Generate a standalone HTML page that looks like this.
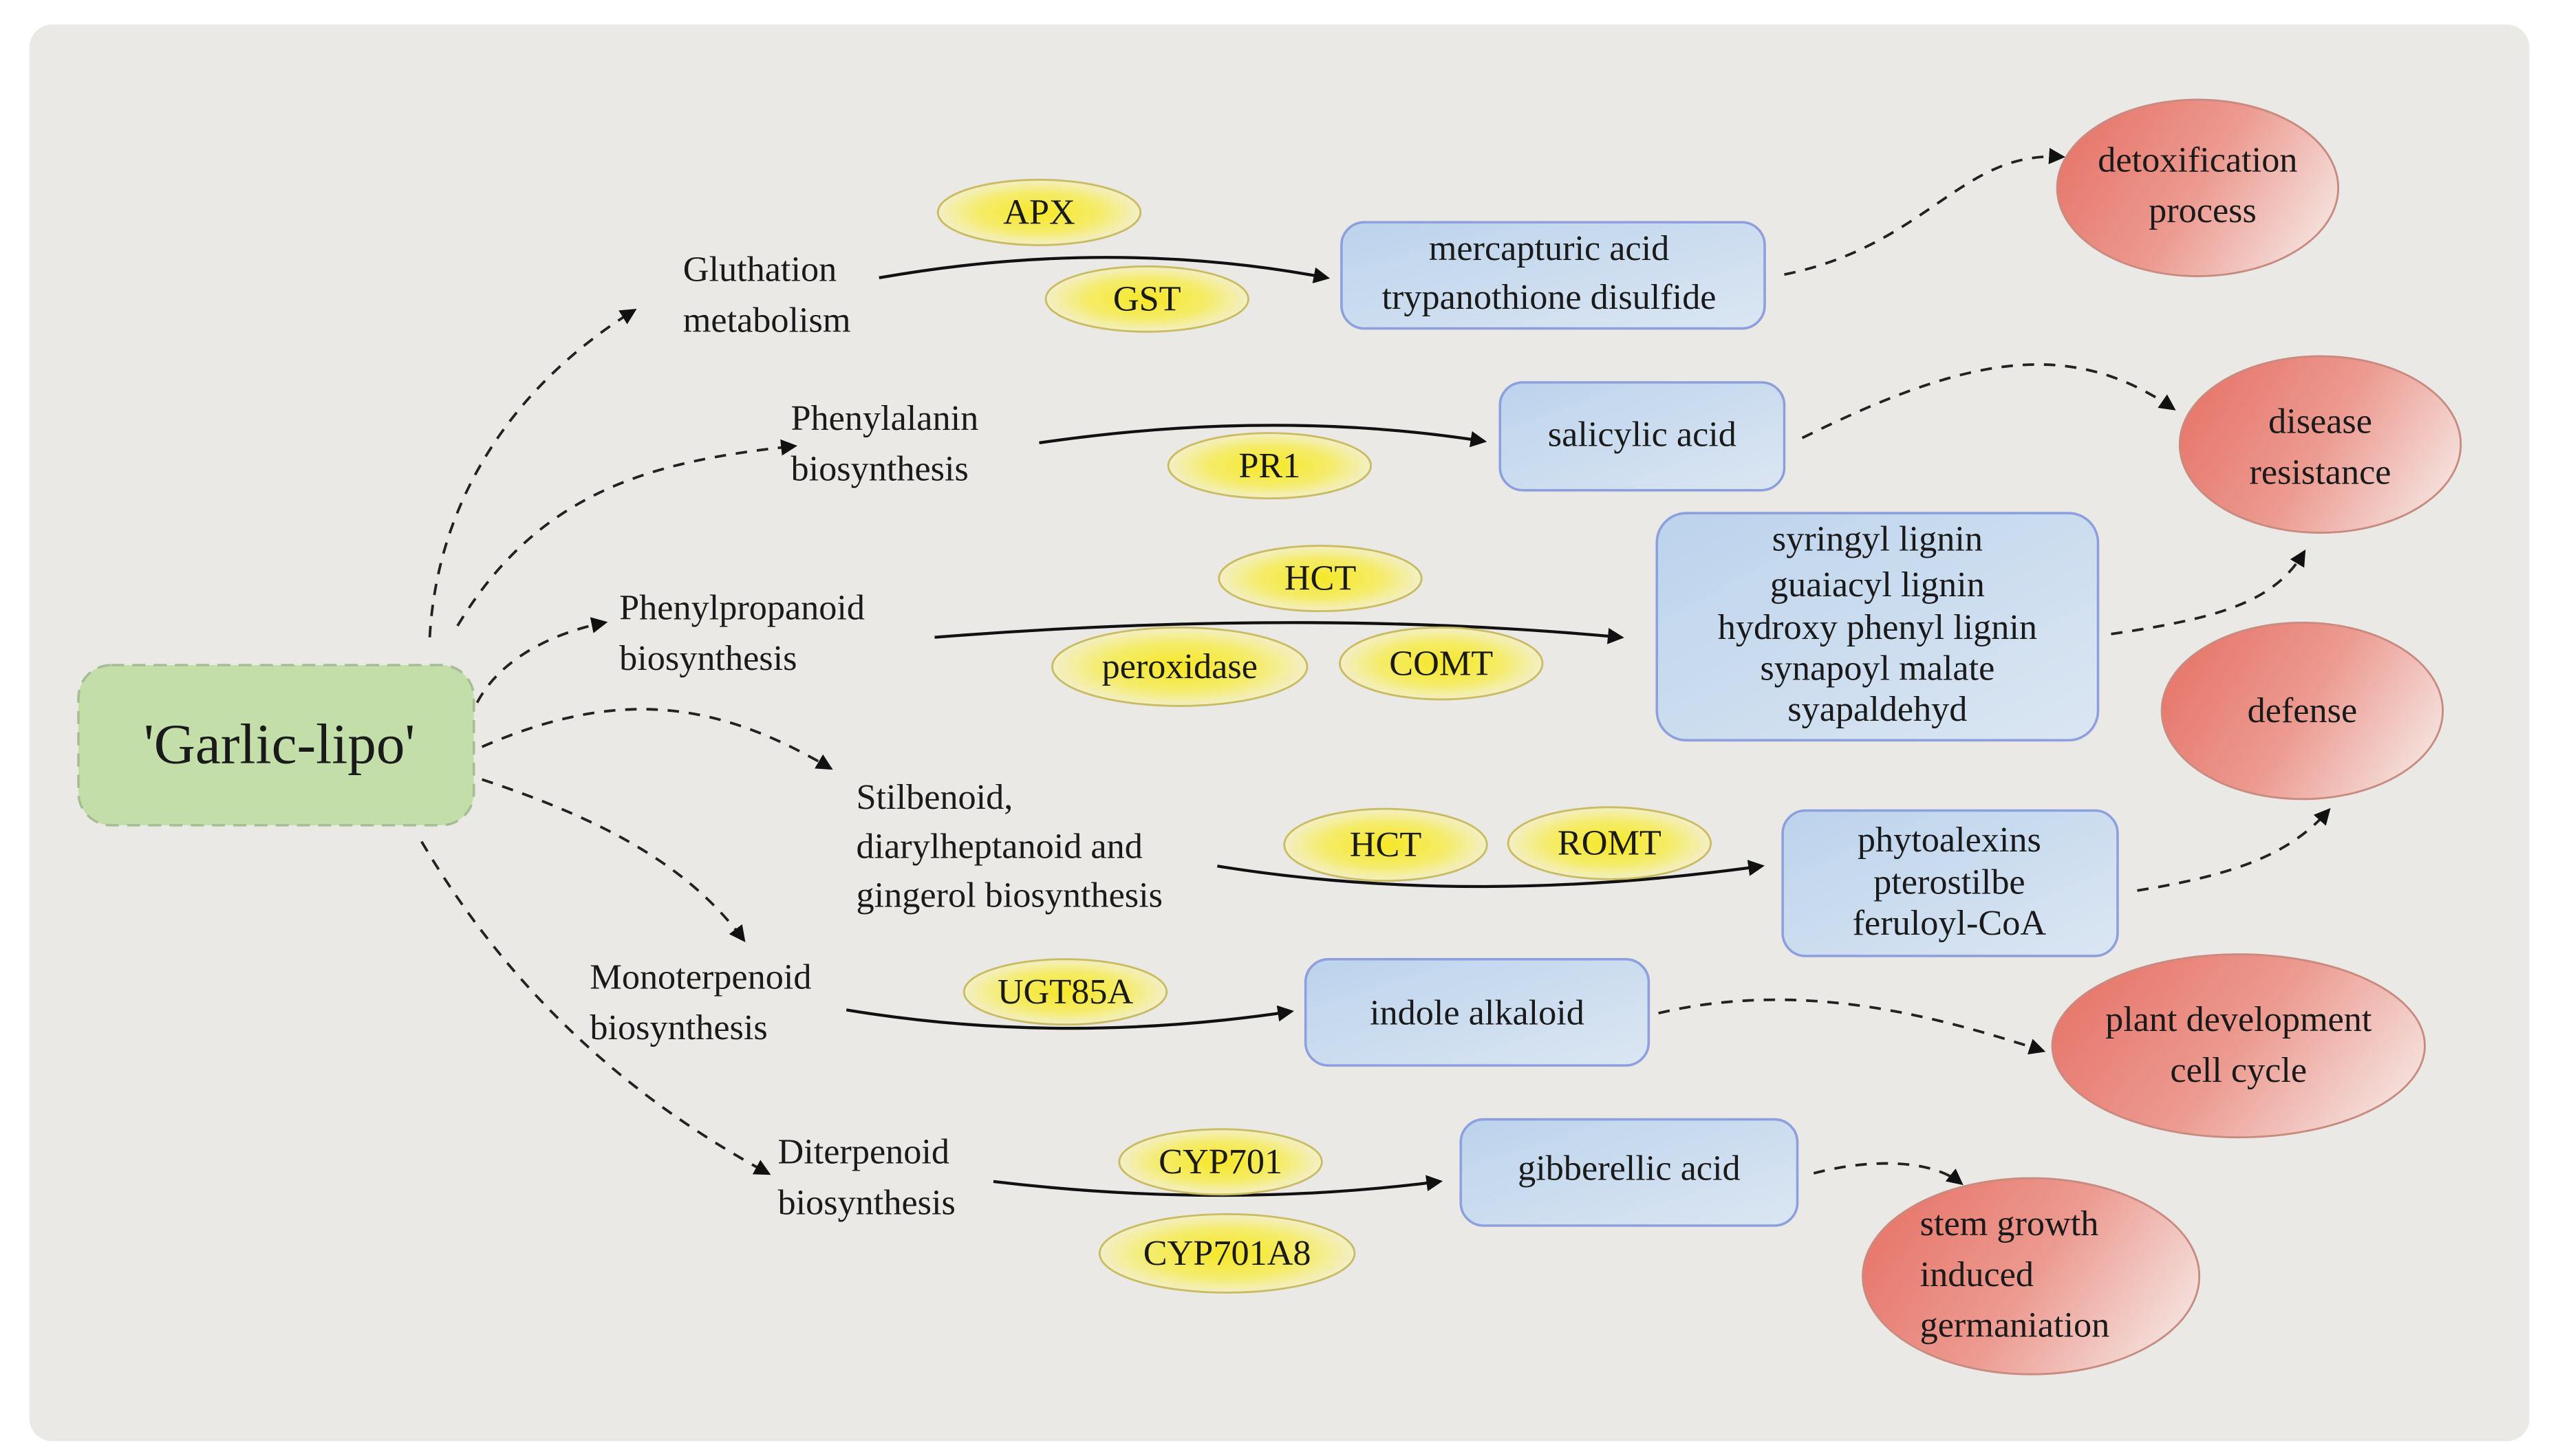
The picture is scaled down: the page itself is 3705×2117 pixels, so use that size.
<!DOCTYPE html>
<html><head><meta charset="utf-8"><style>
html,body{margin:0;padding:0;background:#fff;}
svg{display:block;}
text{font-family:"Liberation Serif",serif;fill:#1a1a1a;}
</style></head><body>
<svg width="3705" height="2117" viewBox="0 0 1560 891" preserveAspectRatio="none" xmlns="http://www.w3.org/2000/svg">
<defs>
<radialGradient id="yel" cx="50%" cy="50%" r="50%"><stop offset="0" stop-color="#f6e726"/><stop offset="0.6" stop-color="#f5ec6a"/><stop offset="1" stop-color="#f3efc6"/></radialGradient>
<linearGradient id="blu" x1="0" y1="0" x2="1" y2="1"><stop offset="0" stop-color="#bcd3ec"/><stop offset="1" stop-color="#dbe6f2"/></linearGradient>
<linearGradient id="red" x1="0" y1="0.3" x2="1" y2="0.7"><stop offset="0" stop-color="#e7766b"/><stop offset="0.5" stop-color="#ec9a90"/><stop offset="1" stop-color="#f5e3df"/></linearGradient>
<marker id="ah" markerWidth="10" markerHeight="10" refX="8" refY="5" orient="auto" markerUnits="userSpaceOnUse"><path d="M0,0 L10,5 L0,10 z" fill="#111"/></marker>
</defs>
<rect x="18" y="15" width="1530" height="867" rx="14" fill="#ebe9e6"/>

<rect x="48" y="407" width="242" height="98" rx="20" fill="#c3dea8" stroke="#a7bd95" stroke-width="1.5" stroke-dasharray="8,5"/>
<text x="171" y="467" font-size="35" text-anchor="middle">'Garlic-lipo'</text>

<g fill="none" stroke="#222" stroke-width="1.6" stroke-dasharray="7,6" marker-end="url(#ah)">
<path d="M263,390 C268,300 320,232 388,190"/>
<path d="M280,383 C330,300 400,282 486,273"/>
<path d="M292,430 C305,405 335,388 370,381"/>
<path d="M295,457 C380,420 440,430 508,470"/>
<path d="M295,477 C380,505 425,535 455,575"/>
<path d="M258,515 C320,620 400,680 470,718"/>
<path d="M1092,168 C1180,150 1200,92 1262,96"/>
<path d="M1103,268 C1200,220 1265,205 1330,250"/>
<path d="M1292,388 C1360,378 1392,368 1410,338"/>
<path d="M1308,545 C1370,535 1402,522 1425,496"/>
<path d="M1015,620 C1100,600 1180,620 1250,643"/>
<path d="M1110,718 C1140,710 1180,708 1200,724"/>
</g>
<g fill="none" stroke="#111" stroke-width="1.8" marker-end="url(#ah)">
<path d="M538,170 Q680,145 812,170"/>
<path d="M636,271 Q780,250 908,270"/>
<path d="M572,390 Q800,372 992,390"/>
<path d="M745,530 Q900,555 1078,530"/>
<path d="M518,618 Q650,640 790,619"/>
<path d="M608,723 Q750,740 881,723"/>
</g>

<g font-size="22">
<text x="418" y="172">Gluthation</text><text x="418" y="203">metabolism</text>
<text x="484" y="263">Phenylalanin</text><text x="484" y="294">biosynthesis</text>
<text x="379" y="379">Phenylpropanoid</text><text x="379" y="410">biosynthesis</text>
<text x="524" y="495">Stilbenoid,</text><text x="524" y="525">diarylheptanoid and</text><text x="524" y="555">gingerol biosynthesis</text>
<text x="361" y="605">Monoterpenoid</text><text x="361" y="636">biosynthesis</text>
<text x="476" y="712">Diterpenoid</text><text x="476" y="743">biosynthesis</text>
</g>

<g stroke="#c9bc62" stroke-width="1.2" fill="url(#yel)">
<ellipse cx="636" cy="130" rx="62" ry="20"/>
<ellipse cx="702" cy="183" rx="62" ry="20"/>
<ellipse cx="777" cy="285" rx="62" ry="20"/>
<ellipse cx="808" cy="354" rx="62" ry="20"/>
<ellipse cx="722" cy="408" rx="78" ry="24"/>
<ellipse cx="882" cy="406" rx="62" ry="22"/>
<ellipse cx="848" cy="517" rx="62" ry="22"/>
<ellipse cx="985" cy="516" rx="62" ry="22"/>
<ellipse cx="652" cy="607" rx="62" ry="20"/>
<ellipse cx="747" cy="711" rx="62" ry="20"/>
<ellipse cx="751" cy="767" rx="78" ry="24"/>
</g>
<g font-size="22" text-anchor="middle">
<text x="636" y="137">APX</text>
<text x="702" y="190">GST</text>
<text x="777" y="292">PR1</text>
<text x="808" y="361">HCT</text>
<text x="722" y="415">peroxidase</text>
<text x="882" y="413">COMT</text>
<text x="848" y="524">HCT</text>
<text x="985" y="523">ROMT</text>
<text x="652" y="614">UGT85A</text>
<text x="747" y="718">CYP701</text>
<text x="751" y="774">CYP701A8</text>
</g>

<g fill="url(#blu)" stroke="#8d9fdc" stroke-width="1.5">
<rect x="821" y="136" width="259" height="65" rx="14"/>
<rect x="918" y="234" width="174" height="66" rx="14"/>
<rect x="1014" y="314" width="270" height="139" rx="18"/>
<rect x="1091" y="496" width="205" height="89" rx="14"/>
<rect x="799" y="587" width="210" height="65" rx="14"/>
<rect x="894" y="685" width="206" height="65" rx="14"/>
</g>
<g font-size="22" text-anchor="middle">
<text x="948" y="159">mercapturic acid</text><text x="948" y="189">trypanothione disulfide</text>
<text x="1005" y="273">salicylic acid</text>
<text x="1149" y="337">syringyl lignin</text><text x="1149" y="365">guaiacyl lignin</text><text x="1149" y="391">hydroxy phenyl lignin</text><text x="1149" y="416">synapoyl malate</text><text x="1149" y="441">syapaldehyd</text>
<text x="1193" y="521">phytoalexins</text><text x="1193" y="547">pterostilbe</text><text x="1193" y="572">feruloyl-CoA</text>
<text x="904" y="627">indole alkaloid</text>
<text x="997" y="722">gibberellic acid</text>
</g>

<g fill="url(#red)" stroke="#c98a80" stroke-width="1.2">
<ellipse cx="1345" cy="115" rx="86" ry="54"/>
<ellipse cx="1420" cy="272" rx="86" ry="54"/>
<ellipse cx="1409" cy="435" rx="86" ry="54"/>
<ellipse cx="1370" cy="640" rx="114" ry="56"/>
<ellipse cx="1243" cy="781" rx="103" ry="60"/>
</g>
<g font-size="22" text-anchor="middle">
<text x="1345" y="105">detoxification</text><text x="1348" y="136">process</text>
<text x="1420" y="265">disease</text><text x="1420" y="296">resistance</text>
<text x="1409" y="442">defense</text>
<text x="1370" y="631">plant development</text><text x="1370" y="662">cell cycle</text>
</g>
<g font-size="22">
<text x="1175" y="756">stem growth</text><text x="1175" y="787">induced</text><text x="1175" y="818">germaniation</text>
</g>
</svg>
</body></html>
